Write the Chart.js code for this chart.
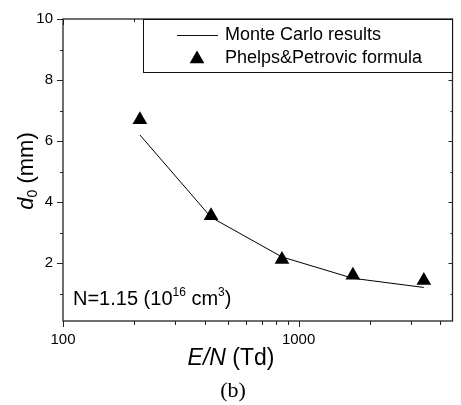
<!DOCTYPE html>
<html>
<head>
<meta charset="utf-8">
<script src="https://cdn.jsdelivr.net/npm/chart.js@4.4.1/dist/chart.umd.min.js"></script>
<style>
html, body { margin: 0; padding: 0; background: #fff; }
#wrap { width: 461px; height: 405px; }
</style>
</head>
<body>
<div id="wrap"><canvas id="c"></canvas></div>
<script>
// Monte Carlo results (line)
const mcEN = [212, 425, 850, 1700, 3400];
const mcD0 = [6.2, 3.5, 2.2, 1.5, 1.2];
// Phelps & Petrovic formula (triangles)
const ppEN = [212, 425, 850, 1700, 3400];
const ppD0 = [6.7, 3.55, 2.12, 1.6, 1.43];

const xTicks = [100, 1000];
const xMinor = [200, 300, 400, 500, 600, 700, 800, 900, 2000, 3000, 4000];
const yTicks = [2, 4, 6, 8, 10];
const yMinor = [1, 3, 5, 7, 9];

const SANS = '"Liberation Sans", Arial, sans-serif';
const SERIF = '"Liberation Serif", "DejaVu Serif", serif';

function toPts(xs, ys) {
    return xs.map((x, i) => ({ x: x, y: ys[i] }));
}

function triangle(ctx, x, y, r) {
    ctx.beginPath();
    ctx.moveTo(x, y - r);
    ctx.lineTo(x + Math.sin(2 * Math.PI / 3) * r, y + r / 2);
    ctx.lineTo(x - Math.sin(2 * Math.PI / 3) * r, y + r / 2);
    ctx.closePath();
    ctx.fill();
}

// draws a run of [text, font, dy] pieces starting at x
function runText(ctx, parts, x, y) {
    for (const p of parts) {
        ctx.font = p[1];
        ctx.fillText(p[0], x, y + (p[2] || 0));
        x += ctx.measureText(p[0]).width;
    }
}
function runWidth(ctx, parts) {
    let w = 0;
    for (const p of parts) { ctx.font = p[1]; w += ctx.measureText(p[0]).width; }
    return w;
}

const decor = {
    id: 'decor',
    afterDraw(chart) {
        const ctx = chart.ctx;
        const a = chart.chartArea;
        const xs = chart.scales.x, ys = chart.scales.y;
        ctx.save();

        // frame
        ctx.strokeStyle = '#222';
        ctx.lineWidth = 1.3;
        ctx.strokeRect(a.left, a.top, a.right - a.left, a.bottom - a.top);

        // ticks
        ctx.lineWidth = 1;
        ctx.beginPath();
        for (const v of xTicks) {
            const px = Math.round(xs.getPixelForValue(v)) + 0.5;
            ctx.moveTo(px, a.bottom); ctx.lineTo(px, a.bottom + 6);
            ctx.moveTo(px, a.top); ctx.lineTo(px, a.top + 6);
        }
        for (const v of xMinor) {
            const px = Math.round(xs.getPixelForValue(v)) + 0.5;
            ctx.moveTo(px, a.bottom); ctx.lineTo(px, a.bottom + 4);
            ctx.moveTo(px, a.top); ctx.lineTo(px, a.top + 3);
        }
        for (const v of yTicks) {
            const py = Math.round(ys.getPixelForValue(v)) + 0.5;
            ctx.moveTo(a.left - 6, py); ctx.lineTo(a.left, py);
            ctx.moveTo(a.right - 4, py); ctx.lineTo(a.right, py);
        }
        for (const v of yMinor) {
            const py = Math.round(ys.getPixelForValue(v)) + 0.5;
            ctx.moveTo(a.left - 3, py); ctx.lineTo(a.left, py);
            ctx.moveTo(a.right - 2, py); ctx.lineTo(a.right, py);
        }
        ctx.stroke();

        // legend box
        const ds = chart.data.datasets;
        const lx = 143, ly = a.top, lw = a.right - 143, lh = 53;
        ctx.fillStyle = '#fff';
        ctx.fillRect(lx, ly, lw, lh);
        ctx.strokeStyle = '#111';
        ctx.lineWidth = 1;
        ctx.strokeRect(lx + 0.5, ly + 0.5, lw - 0.5, lh);
        ctx.beginPath();
        ctx.moveTo(177, ly + 16.5); ctx.lineTo(218, ly + 16.5);
        ctx.stroke();
        ctx.fillStyle = '#000';
        triangle(ctx, 197, ly + 40, 8.5);
        ctx.font = '18px ' + SANS;
        ctx.textBaseline = 'middle';
        ctx.textAlign = 'left';
        ctx.fillText(ds[0].label, 225, ly + 16);
        ctx.fillText(ds[1].label, 225, ly + 39);

        // density note
        ctx.textBaseline = 'alphabetic';
        const f20 = '20px ' + SANS, f12 = '12px ' + SANS;
        runText(ctx, [['N=1.15 (10', f20], ['16', f12, -9], [' cm', f20], ['3', f12, -9], [')', f20]], 73, 305);

        // x title
        const xt = [['E/N', 'italic 23px ' + SANS], [' (Td)', '23px ' + SANS]];
        runText(ctx, xt, 231 - runWidth(ctx, xt) / 2, 365);

        // y title
        const yt = [['d', 'italic 22px ' + SANS], ['0', '14px ' + SANS, 4], [' (mm)', '22px ' + SANS]];
        ctx.save();
        ctx.translate(33, 171);
        ctx.rotate(-Math.PI / 2);
        runText(ctx, yt, -runWidth(ctx, yt) / 2, 0);
        ctx.restore();

        // panel label
        ctx.font = '22px ' + SERIF;
        ctx.textAlign = 'center';
        ctx.fillText('(b)', 233, 397);

        ctx.restore();
    }
};

new Chart(document.getElementById('c'), {
    type: 'scatter',
    data: {
        datasets: [
            {
                label: 'Monte Carlo results',
                data: toPts(mcEN, mcD0),
                showLine: true,
                borderColor: '#000',
                borderWidth: 1,
                pointRadius: 0,
                tension: 0,
            },
            {
                label: 'Phelps&Petrovic formula',
                data: toPts(ppEN, ppD0),
                showLine: false,
                pointStyle: 'triangle',
                pointRadius: 8.5,
                backgroundColor: '#000',
                borderColor: '#000',
                borderWidth: 0,
            },
        ],
    },
    options: {
        responsive: true,
        maintainAspectRatio: false,
        animation: false,
        layout: { padding: { top: 17, right: 1, left: 0, bottom: 0 } },
        plugins: {
            legend: { display: false },
            tooltip: { enabled: false },
        },
        scales: {
            x: {
                type: 'logarithmic',
                min: 100,
                max: 4500,
                grid: { display: false, drawTicks: false },
                border: { display: false },
                afterBuildTicks: s => { s.ticks = xTicks.map(v => ({ value: v })); },
                afterFit: s => { s.height = 84; },
                ticks: {
                    autoSkip: false,
                    maxRotation: 0,
                    padding: 10,
                    color: '#000',
                    font: { family: SANS, size: 15 },
                    callback: v => String(v),
                },
            },
            y: {
                type: 'linear',
                min: 0.1,
                max: 10,
                grid: { display: false, drawTicks: false },
                border: { display: false },
                afterBuildTicks: s => { s.ticks = yTicks.map(v => ({ value: v })); },
                afterFit: s => { s.width = 63; },
                ticks: {
                    padding: 10,
                    color: '#000',
                    font: { family: SANS, size: 15 },
                    callback: v => String(v),
                },
            },
        },
    },
    plugins: [decor],
});
</script>
</body>
</html>
